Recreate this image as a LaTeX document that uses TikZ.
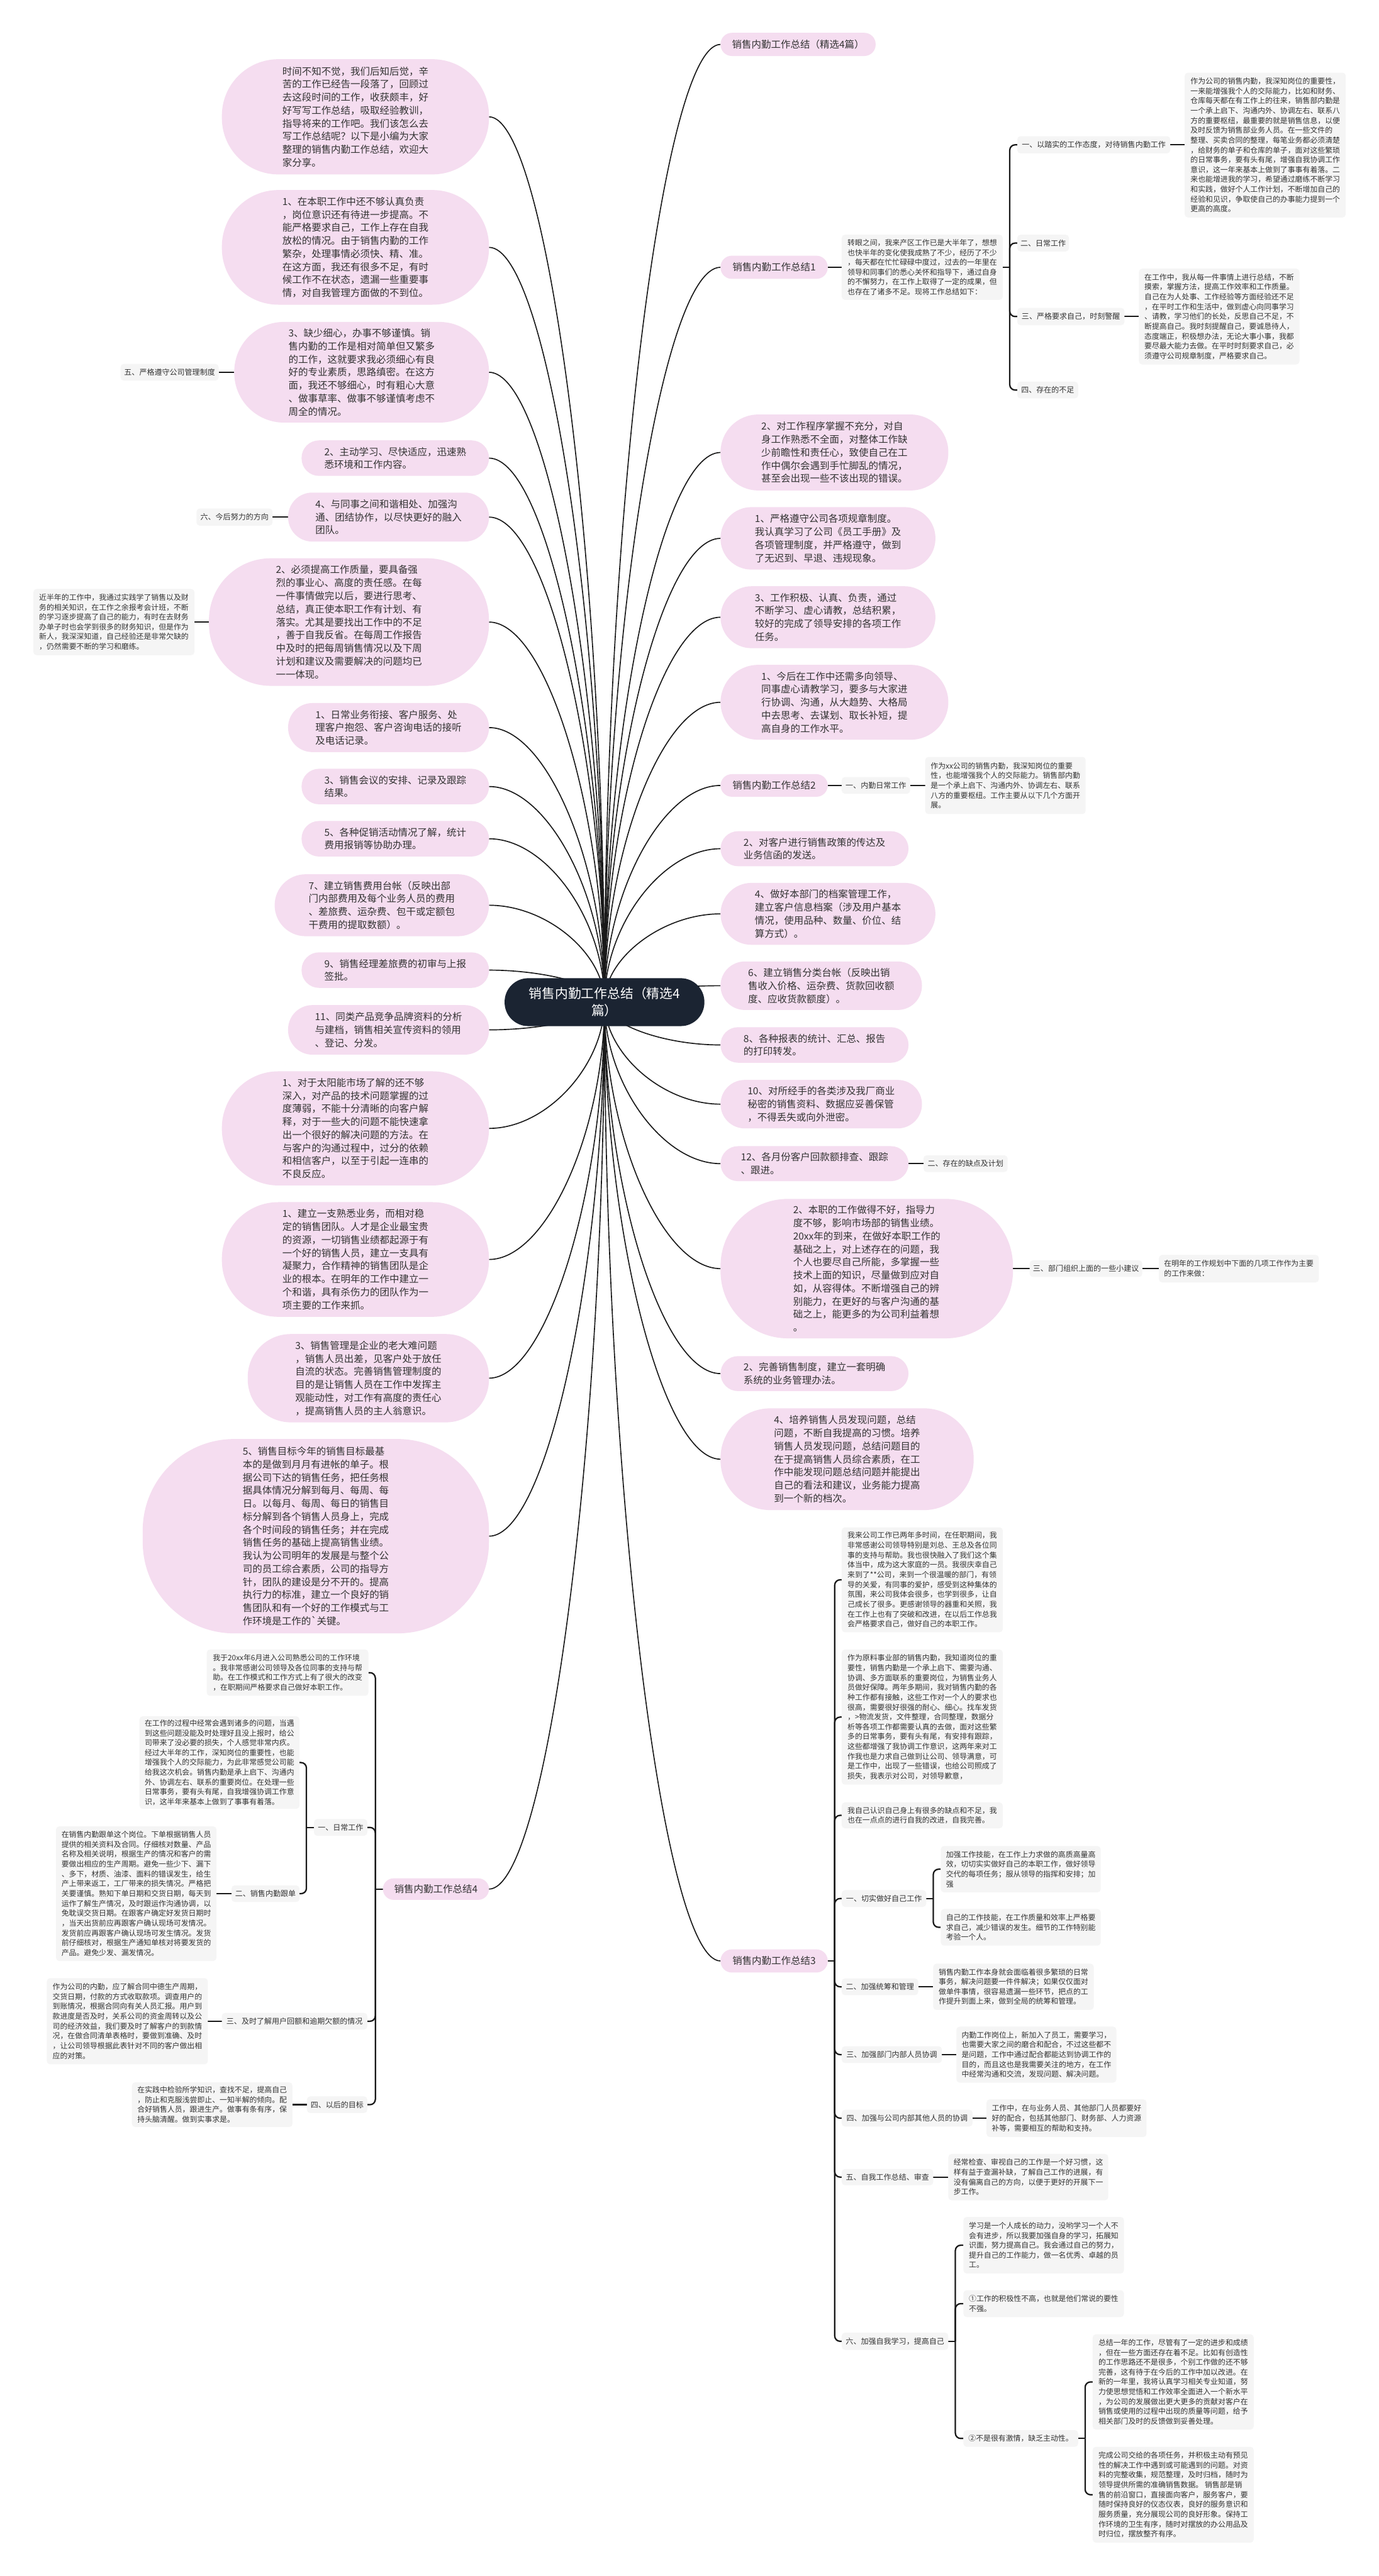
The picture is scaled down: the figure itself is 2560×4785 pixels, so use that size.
\documentclass[tikz,border=0pt]{standalone}
\usepackage{fontspec}
\setmainfont{Noto Sans CJK SC}
\usetikzlibrary{calc}
\definecolor{pinkc}{RGB}{245,221,240}
\definecolor{greyc}{RGB}{245,245,245}
\definecolor{navyc}{RGB}{27,36,50}
\definecolor{inkc}{RGB}{51,51,51}
\definecolor{linec}{RGB}{25,25,25}
\pgfdeclarelayer{bg}
\pgfsetlayers{bg,main}
% curve from the root to a child anchor
\newcommand\twig[1]{\draw[lnk] (R) .. controls ($(R)!0.5!(R |- #1)$) and ($(#1)!0.5!(R |- #1)$) .. (#1);}
% brackets, to the right and to the left
\newcommand\elbR[2]{\draw[elb] (#1.east) -- ++(13,0);
  \draw[elb,rounded corners=0.2cm] (#1.east) ++(13,0) |- (#2.west);}
\newcommand\elbL[2]{\draw[elb] (#1.west) -- ++(-14,0);
  \draw[elb,rounded corners=0.2cm] (#1.west) ++(-14,0) |- (#2.east);}
% straight stubs on one row
\newcommand\strR[2]{\draw[elb] (#1.east) -- (#1.east -| #2.west);}
\newcommand\strL[2]{\draw[elb] (#1.west) -- (#1.west -| #2.east);}
\begin{document}
\begin{tikzpicture}[x=0.02cm,y=-0.02cm,
  every node/.style={anchor=north west,inner sep=0pt,outer sep=0pt,text=inkc,align=left},
  sz/.style 2 args={minimum width=#1*0.02cm,minimum height=#2*0.02cm},
  pk/.style={fill=pinkc,rounded corners=#1,font=\fontsize{10.3pt}{13.8pt}\selectfont},
  gb/.style={fill=greyc,rounded corners=0.12cm,font=\fontsize{7.9pt}{10.4pt}\selectfont},
  lb/.style={fill=greyc,rounded corners=0.12cm,font=\fontsize{8pt}{10pt}\selectfont},
  lnk/.style={draw=linec,line width=1.1pt},
  elb/.style={draw=linec,line width=1.5pt}]
\useasboundingbox (0,0) rectangle (2560,4785);

% root
\node[fill=navyc,text=white,align=center,rounded corners=0.88cm,sz={371}{89},font=\fontsize{13.8pt}{17.8pt}\selectfont] (root) at (937,1817) {销售内勤工作总结（精选4\\篇）};
\coordinate (R) at (root.center);

% left side
\node[pk=2.1cm,sz={496}{214}] (intro) at (412,110) {时间不知不觉，我们后知后觉，辛\\
苦的工作已经告一段落了，回顾过\\
去这段时间的工作，收获颇丰，好\\
好写写工作总结，吸取经验教训，\\
指导将来的工作吧。我们该怎么去\\
写工作总结呢？以下是小编为大家\\
整理的销售内勤工作总结，欢迎大\\
家分享。};
\node[pk=2.1cm,sz={496}{213}] (a1) at (412,353) {1、在本职工作中还不够认真负责\\
，岗位意识还有待进一步提高。不\\
能严格要求自己，工作上存在自我\\
放松的情况。由于销售内勤的工作\\
繁杂，处理事情必须快、精、准。\\
在这方面，我还有很多不足，有时\\
候工作不在状态，遗漏一些重要事\\
情，对自我管理方面做的不到位。};
\node[pk=1.85cm,sz={473}{187}] (a3) at (435,598) {3、缺少细心，办事不够谨慎。销\\
售内勤的工作是相对简单但又繁多\\
的工作，这就要求我必须细心有良\\
好的专业素质，思路缜密。在这方\\
面，我还不够细心，时有粗心大意\\
、做事草率、做事不够谨慎考虑不\\
周全的情况。};
\node[lb,sz={182}{31}] (L5) at (224,676) {五、严格遵守公司管理制度};
\node[pk=0.65cm,sz={348}{66}] (b2) at (560,818) {2、主动学习、尽快适应，迅速熟\\
悉环境和工作内容。};
\node[pk=0.9cm,sz={373}{91}] (b4) at (535,915) {4、与同事之间和谐相处、加强沟\\
通、团结协作，以尽快更好的融入\\
团队。};
\node[lb,sz={141}{32}] (L6) at (365,944.5) {六、今后努力的方向};
\node[pk=2.3cm,sz={520}{237}] (c2) at (388,1037) {2、必须提高工作质量，要具备强\\
烈的事业心、高度的责任感。在每\\
一件事情做完以后，要进行思考、\\
总结，真正使本职工作有计划、有\\
落实。尤其是要找出工作中的不足\\
，善于自我反省。在每周工作报告\\
中及时的把每周销售情况以及下周\\
计划和建议及需要解决的问题均已\\
一一体现。};
\node[gb,sz={299}{123}] (gc2) at (62,1094) {近半年的工作中，我通过实践学了销售以及财\\
务的相关知识，在工作之余报考会计班，不断\\
的学习逐步提高了自己的能力，有时在去财务\\
办单子时也会学到很多的财务知识，但是作为\\
新人，我深深知道，自己经验还是非常欠缺的\\
，仍然需要不断的学习和磨练。};
\node[pk=0.9cm,sz={373}{91}] (d1) at (535,1306) {1、日常业务衔接、客户服务、处\\
理客户抱怨、客户咨询电话的接听\\
及电话记录。};
\node[pk=0.65cm,sz={348}{66}] (d3) at (560,1428) {3、销售会议的安排、记录及跟踪\\
结果。};
\node[pk=0.65cm,sz={348}{66}] (d5) at (560,1525) {5、各种促销活动情况了解，统计\\
费用报销等协助办理。};
\node[pk=1.15cm,sz={398}{115}] (d7) at (510,1624) {7、建立销售费用台帐（反映出部\\
门内部费用及每个业务人员的费用\\
、差旅费、运杂费、包干或定额包\\
干费用的提取数额）。};
\node[pk=0.65cm,sz={348}{66}] (d9) at (560,1769) {9、销售经理差旅费的初审与上报\\
签批。};
\node[pk=0.9cm,sz={373}{92}] (d11) at (535,1867) {11、同类产品竞争品牌资料的分析\\
与建档，销售相关宣传资料的领用\\
、登记、分发。};
\node[pk=2.1cm,sz={496}{212}] (e1) at (412,1990) {1、对于太阳能市场了解的还不够\\
深入，对产品的技术问题掌握的过\\
度薄弱，不能十分清晰的向客户解\\
释，对于一些大的问题不能快速拿\\
出一个很好的解决问题的方法。在\\
与客户的沟通过程中，过分的依赖\\
和相信客户，以至于引起一连串的\\
不良反应。};
\node[pk=2.1cm,sz={496}{213}] (f1) at (412,2233) {1、建立一支熟悉业务，而相对稳\\
定的销售团队。人才是企业最宝贵\\
的资源，一切销售业绩都起源于有\\
一个好的销售人员，建立一支具有\\
凝聚力，合作精神的销售团队是企\\
业的根本。在明年的工作中建立一\\
个和谐，具有杀伤力的团队作为一\\
项主要的工作来抓。};
\node[pk=1.6cm,sz={448}{164}] (f3) at (460,2478) {3、销售管理是企业的老大难问题\\
，销售人员出差，见客户处于放任\\
自流的状态。完善销售管理制度的\\
目的是让销售人员在工作中发挥主\\
观能动性，对工作有高度的责任心\\
，提高销售人员的主人翁意识。};
\node[pk=3.4cm,sz={643}{361}] (f5) at (265,2673) {5、销售目标今年的销售目标最基\\
本的是做到月月有进帐的单子。根\\
据公司下达的销售任务，把任务根\\
据具体情况分解到每月、每周、每\\
日。以每月、每周、每日的销售目\\
标分解到各个销售人员身上，完成\\
各个时间段的销售任务；并在完成\\
销售任务的基础上提高销售业绩。\\
我认为公司明年的发展是与整个公\\
司的员工综合素质，公司的指导方\\
针，团队的建设是分不开的。提高\\
执行力的标准，建立一个良好的销\\
售团队和有一个好的工作模式与工\\
作环境是工作的\textasciigrave 关键。};

% left branch 4
\node[pk=0.4cm,sz={197}{40}] (zj4) at (711,3489) {销售内勤工作总结4};
\node[gb,sz={300}{86}] (g4a) at (384,3064) {我于20xx年6月进入公司熟悉公司的工作环境\\
。我非常感谢公司领导及各位同事的支持与帮\\
助。在工作模式和工作方式上有了很大的改变\\
，在职期间严格要求自己做好本职工作。};
\node[lb,sz={99}{31}] (g4b) at (583,3379) {一、日常工作};
\node[gb,sz={297}{172}] (g4c) at (259,3188) {在工作的过程中经常会遇到诸多的问题，当遇\\
到这些问题没能及时处理好且没上报时，给公\\
司带来了没必要的损失，个人感觉非常内疚。\\
经过大半年的工作，深知岗位的重要性，也能\\
增强我个人的交际能力，为此非常感觉公司能\\
给我这次机会。销售内勤是承上启下、沟通内\\
外、协调左右、联系的重要岗位。在处理一些\\
日常事务，要有头有尾，自我增强协调工作意\\
识，这半年来基本上做到了事事有着落。};
\node[lb,sz={126}{31}] (g4d) at (430,3502) {二、销售内勤跟单};
\node[gb,sz={298}{250}] (g4e) at (104,3392.5) {在销售内勤跟单这个岗位。下单根据销售人员\\
提供的相关资料及合同。仔细核对数量、产品\\
名称及相关说明，根据生产的情况和客户的需\\
要做出相应的生产周期。避免一些少下、漏下\\
、多下，材质、油漆、面料的错误发生，给生\\
产上带来返工，工厂带来的损失情况。严格把\\
关要谨慎。熟知下单日期和交货日期，每天到\\
运作了解生产情况，及时跟运作沟通协调，以\\
免耽误交货日期。在跟客户确定好发货日期时\\
，当天出货前应再跟客户确认现场可发情况。\\
发货前应再跟客户确认现场可发生情况。发货\\
前仔细核对，根据生产通知单核对将要发货的\\
产品。避免少发、漏发情况。};
\node[lb,sz={270}{31}] (g4f) at (412,3739) {三、及时了解用户回额和逾期欠额的情况};
\node[gb,sz={299}{160}] (g4g) at (87,3674.5) {作为公司的内勤，应了解合同中德生产周期，\\
交货日期，付款的方式收取款项。调查用户的\\
到账情况，根据合同向有关人员汇报。用户到\\
款进度是否及时，关系公司的资金周转以及公\\
司的经济效益，我们要及时了解客户的到款情\\
况，在做合同清单表格时，要做到准确、及时\\
，让公司领导根据此表针对不同的客户做出相\\
应的对策。};
\node[lb,sz={112}{31}] (g4h) at (570,3894) {四、以后的目标};
\node[gb,sz={298}{83}] (g4i) at (245,3868) {在实践中检验所学知识，查找不足，提高自己\\
，防止和克服浅尝即止、一知半解的倾向。配\\
合好销售人员，跟进生产。做事有条有序，保\\
持头脑清醒。做到实事求是。};

% right side
\node[pk=0.42cm,sz={288}{43}] (top) at (1338,61) {销售内勤工作总结（精选4篇）};
\node[pk=0.42cm,sz={199}{43}] (zj1) at (1338,475) {销售内勤工作总结1};
\node[gb,sz={299}{121}] (r1a) at (1563,436) {转眼之间，我来产区工作已是大半年了，想想\\
也快半年的变化使我成熟了不少，经历了不少\\
，每天都在忙忙碌碌中度过，过去的一年里在\\
领导和同事们的悉心关怀和指导下，通过自身\\
的不懈努力，在工作上取得了一定的成果，但\\
也存在了诸多不足。现将工作总结如下：};
\node[lb,sz={284}{32}] (r1b) at (1889,253) {一、以踏实的工作态度，对待销售内勤工作};
\node[gb,sz={299}{269}] (r1c) at (2200,135) {作为公司的销售内勤，我深知岗位的重要性，\\
一来能增强我个人的交际能力，比如和财务、\\
仓库每天都在有工作上的往来，销售部内勤是\\
一个承上启下、沟通内外、协调左右、联系八\\
方的重要枢纽，最重要的就是销售信息，以便\\
及时反馈为销售部业务人员。在一些文件的\\
整理、买卖合同的整理，每笔业务都必须清楚\\
，给财务的单子和仓库的单子，面对这些繁琐\\
的日常事务，要有头有尾，增强自我协调工作\\
意识，这一年来基本上做到了事事有着落。二\\
来也能增进我的学习，希望通过磨练不断学习\\
和实践，做好个人工作计划，不断增加自己的\\
经验和见识，争取使自己的办事能力提到一个\\
更高的高度。};
\node[lb,sz={96}{31}] (r1d) at (1889,436) {二、日常工作};
\node[lb,sz={199}{32}] (r1e) at (1889,572) {三、严格要求自己，时刻警醒};
\node[gb,sz={298}{178}] (r1f) at (2115,499) {在工作中，我从每一件事情上进行总结，不断\\
摸索，掌握方法，提高工作效率和工作质量。\\
自己在为人处事、工作经验等方面经验还不足\\
，在平时工作和生活中，做到虚心向同事学习\\
、请教，学习他们的长处，反思自己不足，不\\
断提高自己。我时刻提醒自己，要诚恳待人，\\
态度端正，积极想办法，无论大事小事，我都\\
要尽最大能力去做。在平时时刻要求自己，必\\
须遵守公司规章制度，严格要求自己。};
\node[lb,sz={113}{31}] (r1g) at (1889,709) {四、存在的不足};
\node[pk=1.4cm,sz={423}{141}] (p2) at (1338,770) {2、对工作程序掌握不充分，对自\\
身工作熟悉不全面，对整体工作缺\\
少前瞻性和责任心，致使自己在工\\
作中偶尔会遇到手忙脚乱的情况，\\
甚至会出现一些不该出现的错误。};
\node[pk=1.15cm,sz={399}{116}] (p1) at (1338,942) {1、严格遵守公司各项规章制度。\\
我认真学习了公司《员工手册》及\\
各项管理制度，并严格遵守，做到\\
了无迟到、早退、违规现象。};
\node[pk=1.15cm,sz={399}{115}] (p3) at (1338,1089) {3、工作积极、认真、负责，通过\\
不断学习、虚心请教，总结积累，\\
较好的完成了领导安排的各项工作\\
任务。};
\node[pk=1.4cm,sz={423}{139}] (p1b) at (1338,1235) {1、今后在工作中还需多向领导、\\
同事虚心请教学习，要多与大家进\\
行协调、沟通，从大趋势、大格局\\
中去思考、去谋划、取长补短，提\\
高自身的工作水平。};
\node[pk=0.42cm,sz={199}{42}] (zj2) at (1338,1438) {销售内勤工作总结2};
\node[lb,sz={127}{31}] (r2a) at (1563,1443.5) {一、内勤日常工作};
\node[gb,sz={298}{106}] (r2b) at (1718,1406) {作为xx公司的销售内勤，我深知岗位的重要\\
性，也能增强我个人的交际能力。销售部内勤\\
是一个承上启下、沟通内外、协调左右、联系\\
八方的重要枢纽。工作主要从以下几个方面开\\
展。};
\node[pk=0.65cm,sz={349}{65}] (q2) at (1338,1544) {2、对客户进行销售政策的传达及\\
业务信函的发送。};
\node[pk=1.15cm,sz={399}{115}] (q4) at (1338,1640) {4、做好本部门的档案管理工作，\\
建立客户信息档案（涉及用户基本\\
情况，使用品种、数量、价位、结\\
算方式）。};
\node[pk=0.9cm,sz={374}{90}] (q6) at (1338,1786) {6、建立销售分类台帐（反映出销\\
售收入价格、运杂费、货款回收额\\
度、应收货款额度）。};
\node[pk=0.65cm,sz={349}{66}] (q8) at (1338,1908) {8、各种报表的统计、汇总、报告\\
的打印转发。};
\node[pk=0.9cm,sz={374}{90}] (q10) at (1338,2006) {10、对所经手的各类涉及我厂商业\\
秘密的销售资料、数据应妥善保管\\
，不得丢失或向外泄密。};
\node[pk=0.65cm,sz={349}{65}] (q12) at (1338,2129) {12、各月份客户回款额排查、跟踪\\
、跟进。};
\node[lb,sz={156}{31}] (r12) at (1715,2146) {二、存在的缺点及计划};
\node[pk=2.5cm,sz={543}{259}] (s2) at (1338,2227) {2、本职的工作做得不好，指导力\\
度不够，影响市场部的销售业绩。\\
20xx年的到来，在做好本职工作的\\
基础之上，对上述存在的问题，我\\
个人也要尽自己所能，多掌握一些\\
技术上面的知识，尽量做到应对自\\
如，从容得体。不断增强自己的辨\\
别能力，在更好的与客户沟通的基\\
础之上，能更多的为公司利益着想\\
。};
\node[lb,sz={209}{31}] (s2a) at (1912,2341) {三、部门组织上面的一些小建议};
\node[gb,sz={297}{51}] (s2b) at (2152,2331) {在明年的工作规划中下面的几项工作作为主要\\
的工作来做：};
\node[pk=0.65cm,sz={349}{65}] (t2) at (1338,2519) {2、完善销售制度，建立一套明确\\
系统的业务管理办法。};
\node[pk=1.85cm,sz={470}{189}] (t4) at (1338,2616) {4、培养销售人员发现问题，总结\\
问题，不断自我提高的习惯。培养\\
销售人员发现问题，总结问题目的\\
在于提高销售人员综合素质，在工\\
作中能发现问题总结问题并能提出\\
自己的看法和建议，业务能力提高\\
到一个新的档次。};

% right branch 3
\node[pk=0.42cm,sz={199}{43}] (zj3) at (1338,3621) {销售内勤工作总结3};
\node[gb,sz={299}{195}] (u1) at (1563,2837) {我来公司工作已两年多时间，在任职期间，我\\
非常感谢公司领导特别是刘总、王总及各位同\\
事的支持与帮助。我也很快融入了我们这个集\\
体当中，成为这大家庭的一员。我很庆幸自己\\
来到了**公司，来到一个很温暖的部门，有领\\
导的关爱，有同事的爱护，感受到这种集体的\\
氛围，来公司我体会很多，也学到很多，让自\\
己成长了很多。更感谢领导的器重和关照，我\\
在工作上也有了突破和改进，在以后工作总我\\
会严格要求自己，做好自己的本职工作。};
\node[gb,sz={299}{251}] (u2) at (1563,3064) {作为原料事业部的销售内勤，我知道岗位的重\\
要性，销售内勤是一个承上启下、需要沟通、\\
协调、多方面联系的重要岗位，为销售业务人\\
员做好保障。两年多期间，我对销售内勤的各\\
种工作都有接触，这些工作对一个人的要求也\\
很高，需要很好很强的耐心、细心。找车发货\\
，>物流发货，文件整理，合同整理，数据分\\
析等各项工作都需要认真的去做，面对这些繁\\
多的日常事务，要有头有尾，有安排有跟踪，\\
这些都增强了我协调工作意识，这两年来对工\\
作我也是力求自己做到让公司、领导满意，可\\
是工作中，出现了一些错误，也给公司照成了\\
损失，我表示对公司，对领导歉意，};
\node[gb,sz={299}{48}] (u3) at (1563,3348) {我自己认识自己身上有很多的缺点和不足，我\\
也在一点点的进行自我的改进，自我完善。};
\node[lb,sz={157}{31}] (u4) at (1563,3511) {一、切实做好自己工作};
\node[gb,sz={297}{86}] (u4a) at (1747,3429) {加强工作技能，在工作上力求做的高质高量高\\
效，切切实实做好自己的本职工作，做好领导\\
交代的每项任务；服从领导的指挥和安排；加\\
强};
\node[gb,sz={297}{68}] (u4b) at (1747,3546) {自己的工作技能，在工作质量和效率上严格要\\
求自己，减少错误的发生。细节的工作特别能\\
考验一个人。};
\node[lb,sz={142}{31}] (u5) at (1563,3675) {二、加强统筹和管理};
\node[gb,sz={298}{86}] (u5a) at (1733,3647.5) {销售内勤工作本身就会面临着很多繁琐的日常\\
事务，解决问题要一件件解决；如果仅仅面对\\
做单件事情，很容易遗漏一些环节，把点的工\\
作提升到面上来，做到全局的统筹和管理。};
\node[lb,sz={186}{31}] (u6) at (1563,3801) {三、加强部门内部人员协调};
\node[gb,sz={297}{104}] (u6a) at (1776,3764.5) {内勤工作岗位上，新加入了员工，需要学习，\\
也需要大家之间的磨合和配合，不过这些都不\\
是问题，工作中通过配合都能达到协调工作的\\
目的，而且这也是我需要关注的地方，在工作\\
中经常沟通和交流，发现问题、解决问题。};
\node[lb,sz={243}{31}] (u7) at (1563,3919) {四、加强与公司内部其他人员的协调};
\node[gb,sz={297}{70}] (u7a) at (1832,3899.5) {工作中，在与业务人员、其他部门人员都要好\\
好的配合，包括其他部门、财务部、人力资源\\
补等，需要相互的帮助和支持。};
\node[lb,sz={170}{30}] (u8) at (1563,4029) {五、自我工作总结、审查};
\node[gb,sz={297}{86}] (u8a) at (1761,4001) {经常检查、审视自己的工作是一个好习惯，这\\
样有益于查漏补缺，了解自己工作的进展，有\\
没有偏离自己的方向，以便于更好的开展下一\\
步工作。};
\node[lb,sz={198}{32}] (u9) at (1563,4333) {六、加强自我学习，提高自己};
\node[gb,sz={298}{105}] (u9a) at (1789,4118) {学习是一个人成长的动力，没哟学习一个人不\\
会有进步，所以我要加强自身的学习，拓展知\\
识面，努力提高自己。我会通过自己的努力，\\
提升自己的工作能力，做一名优秀、卓越的员\\
工。};
\node[gb,sz={298}{50}] (u9b) at (1789,4254) {①工作的积极性不高，也就是他们常说的要性\\
不强。};
\node[gb,sz={213}{31}] (u9c) at (1789,4514) {②不是很有激情，缺乏主动性。};
\node[gb,sz={299}{177}] (u9d) at (2029,4336) {总结一年的工作，尽管有了一定的进步和成绩\\
，但在一些方面还存在着不足。比如有创造性\\
的工作思路还不是很多，个别工作做的还不够\\
完善，这有待于在今后的工作中加以改进。在\\
新的一年里，我将认真学习相关专业知道，努\\
力使思想觉悟和工作效率全面进入一个新水平\\
，为公司的发展做出更大更多的贡献对客户在\\
销售或使用的过程中出现的质量等问题，给予\\
相关部门及时的反馈做到妥善处理。};
\node[gb,sz={299}{178}] (u9e) at (2029,4545) {完成公司交给的各项任务，并积极主动有预见\\
性的解决工作中遇到或可能遇到的问题。对资\\
料的完整收集，规范整理，及时归档，随时为\\
领导提供所需的准确销售数据。 销售部是销\\
售的前沿窗口，直接面向客户，服务客户，要\\
随时保持良好的仪态仪表，良好的服务意识和\\
服务质量，充分展现公司的良好形象。保持工\\
作环境的卫生有序，随时对摆放的办公用品及\\
时归位，摆放整齐有序。};

\begin{pgfonlayer}{bg}
  \fill[white] (0,0) rectangle (2560,4785);
  % root to its children
  \foreach \n in {intro,a1,a3,b2,b4,c2,d1,d3,d5,d7,d9,d11,e1,f1,f3,f5,zj4}
    {\twig{\n.east}}
  \foreach \n in {top,zj1,p2,p1,p3,p1b,zj2,q2,q4,q6,q8,q10,q12,s2,t2,t4,zj3}
    {\twig{\n.west}}
  % left side
  \strL{a3}{L5}
  \strL{b4}{L6}
  \strL{c2}{gc2}
  \foreach \n in {g4a,g4b,g4f,g4h} {\elbL{zj4}{\n}}
  \elbL{g4b}{g4c}
  \elbL{g4b}{g4d}
  \strL{g4d}{g4e}
  \strL{g4f}{g4g}
  \strL{g4h}{g4i}
  % right side
  \strR{zj1}{r1a}
  \foreach \n in {r1b,r1d,r1e,r1g} {\elbR{r1a}{\n}}
  \strR{r1b}{r1c}
  \strR{r1e}{r1f}
  \strR{zj2}{r2a}
  \strR{r2a}{r2b}
  \strR{q12}{r12}
  \strR{s2}{s2a}
  \strR{s2a}{s2b}
  \foreach \n in {u1,u2,u3,u4,u5,u6,u7,u8,u9} {\elbR{zj3}{\n}}
  \elbR{u4}{u4a}
  \elbR{u4}{u4b}
  \strR{u5}{u5a}
  \strR{u6}{u6a}
  \strR{u7}{u7a}
  \strR{u8}{u8a}
  \foreach \n in {u9a,u9b,u9c} {\elbR{u9}{\n}}
  \elbR{u9c}{u9d}
  \elbR{u9c}{u9e}
\end{pgfonlayer}
\end{tikzpicture}
\end{document}
